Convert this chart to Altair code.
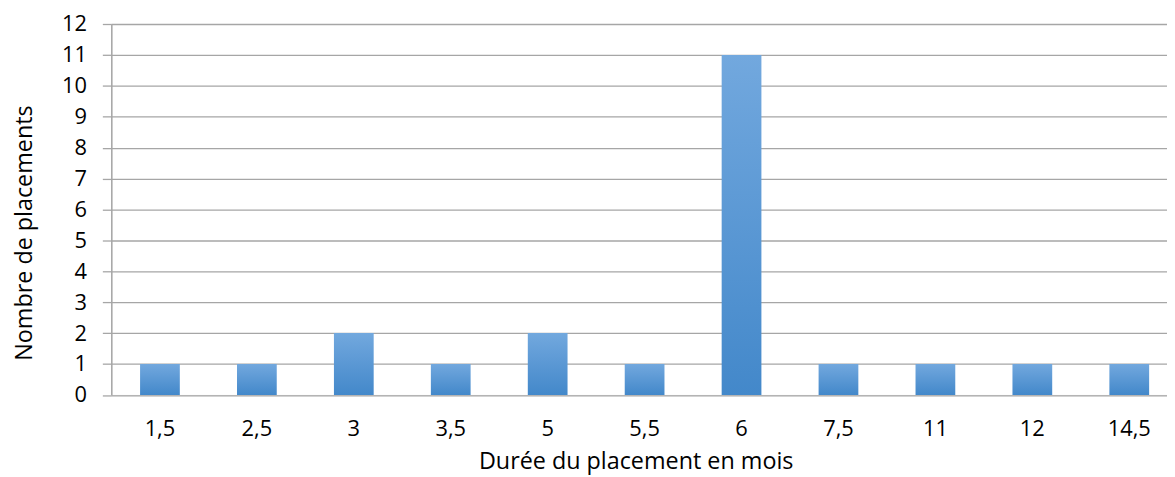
import altair as alt
import pandas as pd

categories = ["1,5", "2,5", "3", "3,5", "5", "5,5", "6", "7,5", "11", "12", "14,5"]
values = [1, 1, 2, 1, 2, 1, 11, 1, 1, 1, 1]

df = pd.DataFrame({"duree": categories, "nombre": values})

FONT = "Open Sans"
GRAY = "#A6A6A6"

bars = alt.Chart(df).mark_bar(
    color=alt.Gradient(
        gradient="linear",
        stops=[alt.GradientStop(color="#72A8DE", offset=0),
               alt.GradientStop(color="#4388CA", offset=1)],
        x1=0, x2=0, y1=0, y2=1,
    )
).encode(
    x=alt.X("duree:N", sort=categories,
            scale=alt.Scale(paddingInner=0.59, paddingOuter=0.297, range=[0, 1074]),
            axis=alt.Axis(title="Durée du placement en mois", labelAngle=0,
                          ticks=False, domain=False, labelPadding=24,
                          labelFontSize=22, titleFontSize=23.5,
                          labelFont=FONT, titleFont=FONT,
                          labelColor="#000000", titleColor="#000000",
                          titleFontWeight="normal", titleAlign="center",
                          titleBaseline="alphabetic", titleX=528, titleY=74)),
    y=alt.Y("nombre:Q", scale=alt.Scale(domain=[0, 12], nice=False),
            axis=alt.Axis(title="Nombre de placements", values=list(range(0, 13)),
                          labelOverlap=False, labelFlush=False,
                          grid=True, gridColor=GRAY, gridWidth=1.3,
                          domain=True, domainColor=GRAY, domainWidth=1.5,
                          ticks=True, tickColor=GRAY, tickSize=9, tickWidth=1.3,
                          labelPadding=16, labelFontSize=22, titleFontSize=23.5,
                          labelFont=FONT, titleFont=FONT,
                          labelColor="#000000", titleColor="#000000",
                          titleFontWeight="normal",
                          titleBaseline="alphabetic", titleAlign="center",
                          titleX=-80, titleY=210)),
)

chart = bars.properties(
    width=1063, height=373.5,
    autosize=alt.AutoSizeParams(type="none"),
    padding={"left": 104, "top": 14.5, "right": 0, "bottom": 80},
).configure_view(stroke=None).configure(background="white")

chart.save("out.html", embed_options={"renderer": "svg", "actions": False})
